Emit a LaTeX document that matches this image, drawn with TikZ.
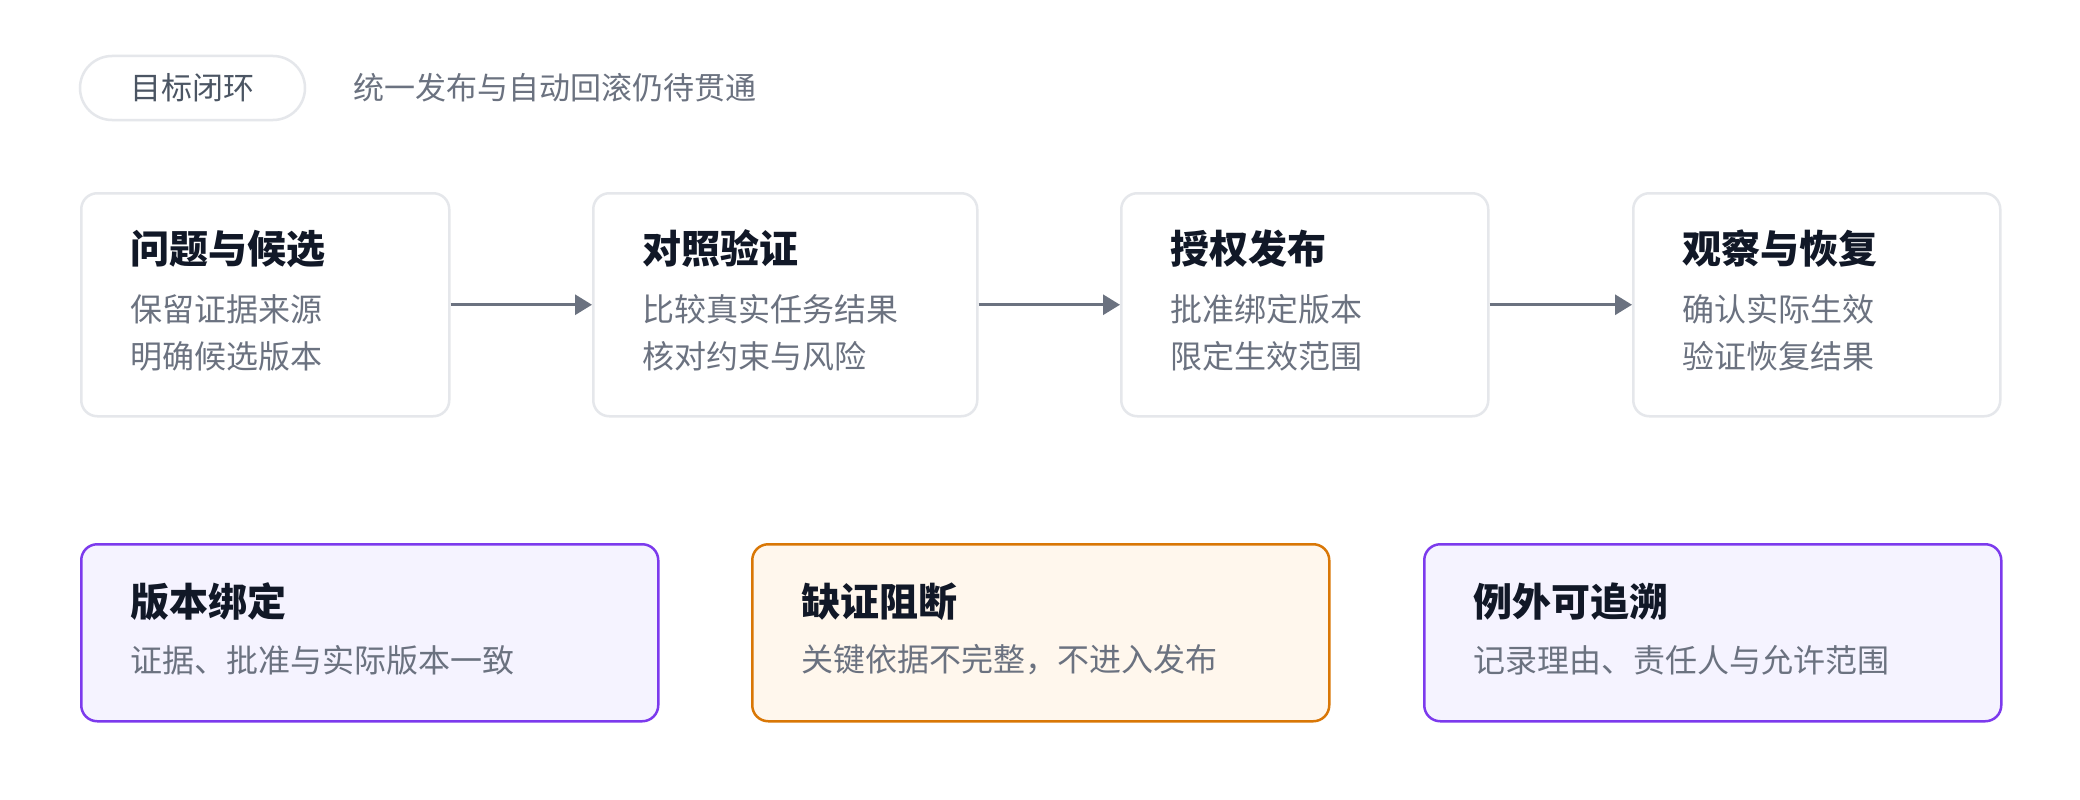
\documentclass[tikz,border=0pt]{standalone}
\usepackage{fontspec}
\setmainfont{Noto Sans CJK SC}
\usetikzlibrary{arrows.meta}
\definecolor{inkc}{HTML}{111827}
\definecolor{bodyc}{HTML}{6B7280}
\definecolor{pillc}{HTML}{4B5563}
\definecolor{linec}{HTML}{E5E7EB}
\definecolor{arrowc}{HTML}{6B7280}
\definecolor{purplec}{HTML}{7C3AED}
\definecolor{purplefill}{HTML}{F5F3FF}
\definecolor{orangec}{HTML}{D97706}
\definecolor{orangefill}{HTML}{FFF7ED}
\tikzset{
  card/.style={draw=linec, line width=2.5pt, fill=white, rounded corners=16pt, anchor=north west, minimum height=223pt, inner sep=0pt},
  notecard/.style={line width=2.5pt, rounded corners=16pt, anchor=north west, minimum height=177pt, minimum width=577pt, inner sep=0pt},
  purplecard/.style={notecard, draw=purplec, fill=purplefill},
  orangecard/.style={notecard, draw=orangec, fill=orangefill},
  titletext/.style={anchor=west, inner sep=0pt, text=inkc, font=\bfseries\fontsize{39pt}{46pt}\selectfont},
  bodytext/.style={anchor=west, inner sep=0pt, text=bodyc, font=\fontsize{32pt}{38pt}\selectfont},
  flow/.style={draw=arrowc, line width=3pt, -{Triangle[length=17pt,width=20pt]}},
  pill/.style={draw=linec, line width=2.5pt, fill=white, rounded corners=32pt, minimum width=225pt, minimum height=64pt, inner sep=0pt, text=pillc, font=\fontsize{31pt}{37pt}\selectfont}
}
\begin{document}
\begin{tikzpicture}[x=1pt,y=-1pt]
\useasboundingbox[fill=white] (0,0) rectangle (2080,800);

% header
\node[pill] (goal) at (192.5,88) {目标闭环};
\node[bodytext, font=\fontsize{31pt}{37pt}\selectfont] (goalnote) at (353,88) {统一发布与自动回滚仍待贯通};

% flow cards
\node[card, minimum width=368pt] (b1) at (80,192) {};
\node[card, minimum width=384pt] (b2) at (592,192) {};
\node[card, minimum width=367pt] (b3) at (1120,192) {};
\node[card, minimum width=367pt] (b4) at (1632,192) {};

\node[titletext] (t1) at (130,249) {问题与候选};
\node[bodytext] (t1a) at (130,309) {保留证据来源};
\node[bodytext] (t1b) at (130,356) {明确候选版本};

\node[titletext] (t2) at (642,249) {对照验证};
\node[bodytext] (t2a) at (642,309) {比较真实任务结果};
\node[bodytext] (t2b) at (642,356) {核对约束与风险};

\node[titletext] (t3) at (1170,249) {授权发布};
\node[bodytext] (t3a) at (1170,309) {批准绑定版本};
\node[bodytext] (t3b) at (1170,356) {限定生效范围};

\node[titletext] (t4) at (1682,249) {观察与恢复};
\node[bodytext] (t4a) at (1682,309) {确认实际生效};
\node[bodytext] (t4b) at (1682,356) {验证恢复结果};

\draw[flow] (b1.east) -- (b2.west);
\draw[flow] (b2.east) -- (b3.west);
\draw[flow] (b3.east) -- (b4.west);

% bottom cards
\node[purplecard] (n1) at (80,543) {};
\node[orangecard] (n2) at (751,543) {};
\node[purplecard] (n3) at (1423,543) {};

\node[titletext] (n1t) at (130,602) {版本绑定};
\node[bodytext] (n1b) at (130,660) {证据、批准与实际版本一致};

\node[titletext] (n2t) at (801,602) {缺证阻断};
\node[bodytext] (n2b) at (801,660) {关键依据不完整，不进入发布};

\node[titletext] (n3t) at (1473,602) {例外可追溯};
\node[bodytext] (n3b) at (1473,660) {记录理由、责任人与允许范围};
\end{tikzpicture}
\end{document}
